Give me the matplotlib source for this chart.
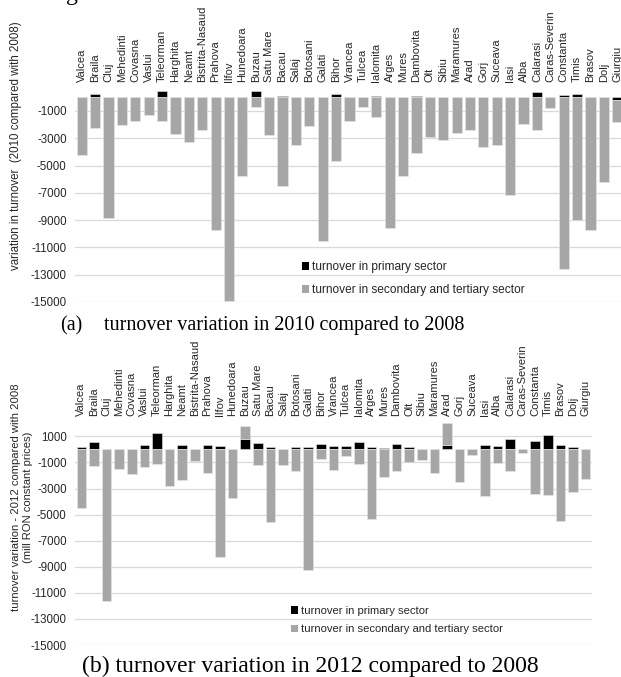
import numpy as np
import matplotlib.pyplot as plt
from matplotlib.patches import Patch

counties = ['Valcea', 'Braila', 'Cluj', 'Mehedinti', 'Covasna', 'Vaslui', 'Teleorman',
            'Harghita', 'Neamt', 'Bistrita-Nasaud', 'Prahova', 'Ilfov', 'Hunedoara',
            'Buzau', 'Satu Mare', 'Bacau', 'Salaj', 'Botosani', 'Galati', 'Bihor',
            'Vrancea', 'Tulcea', 'Ialomita', 'Arges', 'Mures', 'Dambovita', 'Olt',
            'Sibiu', 'Maramures', 'Arad', 'Gorj', 'Suceava', 'Iasi', 'Alba', 'Calarasi',
            'Caras-Severin', 'Constanta', 'Timis', 'Brasov', 'Dolj', 'Giurgiu']

# variation vs 2008, mill RON
primary_2010 = [0, 250, 0, 0, 0, 60, 440, 0, 50, 0, 60, 0, 0, 440, 50, 80, 0, 0, 60, 220,
                0, 50, 70, 0, 0, 70, 0, 0, 0, 60, 0, 0, 0, 0, 370, 0, 200, 220, 0, 50, -200]
secondary_2010 = [-4200, -2220, -8880, -2040, -1700, -1290, -1730, -2700, -3310, -2390,
                  -9690, -14920, -5790, -730, -2730, -6520, -3460, -2100, -10540, -4650,
                  -1730, -730, -1410, -9570, -5740, -4090, -2920, -3160, -2580, -2430,
                  -3650, -3480, -7180, -1970, -2390, -760, -12600, -8960, -9690, -6180, -1580]

primary_2012 = [180, 600, 50, 0, 0, 350, 1250, 0, 370, 0, 370, 270, 0, 780, 480, 180, 0,
                160, 160, 400, 300, 270, 560, 160, 120, 420, 220, 0, 0, 370, 0, 0, 370, 270,
                830, 0, 680, 1130, 320, 190, 0]
secondary_2012 = [-4490, -1280, -11620, -1490, -1920, -1360, -1080, -2820, -2310, -900,
                  -1790, -8280, -3720, 1030, -1230, -5590, -1230, -1620, -9230, -770,
                  -1590, -480, -1080, -5310, -2100, -1670, -970, -800, -1790, 1690,
                  -2490, -450, -3540, -1030, -1620, -300, -3410, -3460, -5510, -3260, -2230]

W, H = 621, 677
plt.rcParams['font.family'] = 'Liberation Sans'
fig = plt.figure(figsize=(W / 100, H / 100), dpi=100)

TXT = '#262626'
BLACK = '#000000'
GREY = '#a6a6a6'


def px_axes(left, right, top, bottom):
    return fig.add_axes([left / W, 1 - bottom / H, (right - left) / W, (bottom - top) / H])


def draw_panel(ax, prim, sec, ymax, yticks, leg_xy, leg_space, leg_size):
    x = np.arange(len(counties))
    prim = np.array(prim, dtype=float)
    sec = np.array(sec, dtype=float)
    # negative parts stack downwards, positive parts upwards
    base = np.where(sec < 0, np.minimum(prim, 0), np.maximum(prim, 0))
    ax.bar(x, prim, width=0.76, color=BLACK, edgecolor='#e8e8e8', linewidth=0.4)
    ax.bar(x, sec, bottom=base, width=0.76, color=GREY, edgecolor='#e8e8e8', linewidth=0.4)

    ax.set_xlim(-0.5, len(counties) - 0.5)
    ax.set_ylim(-15000, ymax)
    ax.set_yticks(yticks)
    ax.set_yticklabels([str(v) for v in yticks], fontsize=8.3, color=TXT)
    ax.yaxis.grid(True, color='#d9d9d9', linewidth=0.9)
    ax.set_axisbelow(True)
    ax.xaxis.tick_top()
    ax.set_xticks(x)
    ax.set_xticklabels(counties, rotation=90, fontsize=8, color=TXT)
    ax.tick_params(axis='x', length=0, pad=3)
    ax.tick_params(axis='y', length=0, pad=6)
    for s in ax.spines.values():
        s.set_visible(False)

    handles = [Patch(facecolor=BLACK), Patch(facecolor=GREY)]
    ax.legend(handles, ['turnover in primary sector', 'turnover in secondary and tertiary sector'],
              loc='upper left', bbox_to_anchor=(leg_xy[0] / W, 1 - leg_xy[1] / H),
              bbox_transform=fig.transFigure, frameon=False, fontsize=leg_size,
              handlelength=0.6, handleheight=0.6, handletextpad=0.25,
              labelspacing=leg_space, borderpad=0, borderaxespad=0, labelcolor=TXT)


ax1 = px_axes(75, 624, 86, 302)
draw_panel(ax1, primary_2010, secondary_2010, 830, list(range(-15000, 0, 2000)),
           (302, 261), 0.95, 8.6)

ax2 = px_axes(75, 592, 420, 645)
draw_panel(ax2, primary_2012, secondary_2012, 2260, list(range(-15000, 1001, 2000)),
           (291, 606), 0.75, 8.1)

fig.text(16 / W, 1 - 146 / H, 'variation in turnover  (2010 compared with 2008)',
         rotation=90, ha='center', va='center', fontsize=8.3, color=TXT)
fig.text(22 / W, 1 - 497 / H,
         'turnover variation - 2012 compared with 2008\n(mill RON constant prices)',
         rotation=90, ha='center', va='center', fontsize=8.1, color=TXT,
         multialignment='center', linespacing=1.25)

serif = 'Liberation Serif'
fig.text(60 / W, 1 - 330 / H, '(a)', family=serif, fontsize=14.5, va='baseline')
fig.text(104 / W, 1 - 330 / H, 'turnover variation in 2010 compared to 2008',
         family=serif, fontsize=14.5, va='baseline')
fig.text(82 / W, 1 - 672 / H, '(b) turnover variation in 2012 compared to 2008',
         family=serif, fontsize=17, va='baseline')
fig.text(66 / W, 1.0, 'g', family=serif, fontsize=17, va='baseline')

fig.savefig('out.png', dpi=100)
